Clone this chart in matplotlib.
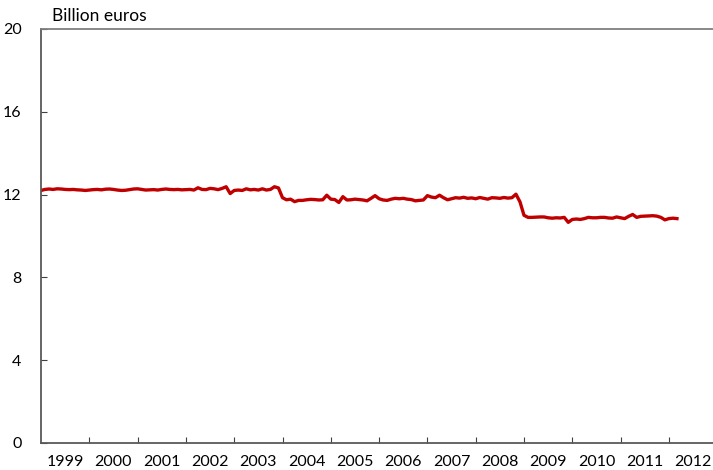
import matplotlib
matplotlib.use("Agg")
import matplotlib.pyplot as plt
import numpy as np

plt.rcParams['font.family'] = ['Lato', 'DejaVu Sans']

start_year = 1999
values = [
    # 1999
    12.20, 12.25, 12.27, 12.25, 12.28, 12.27, 12.25, 12.24, 12.25, 12.23, 12.22, 12.20,
    # 2000
    12.22, 12.24, 12.25, 12.23, 12.26, 12.27, 12.25, 12.22, 12.20, 12.21, 12.24, 12.27,
    # 2001
    12.28, 12.25, 12.22, 12.23, 12.24, 12.22, 12.25, 12.27, 12.25, 12.24, 12.25, 12.23,
    # 2002
    12.24, 12.25, 12.22, 12.33, 12.25, 12.24, 12.30, 12.28, 12.24, 12.30, 12.38, 12.05,
    # 2003
    12.20, 12.22, 12.20, 12.28, 12.23, 12.25, 12.22, 12.28, 12.22, 12.25, 12.38, 12.32,
    # 2004
    11.85, 11.75, 11.78, 11.66, 11.72, 11.72, 11.75, 11.77, 11.76, 11.74, 11.75, 11.97,
    # 2005
    11.78, 11.76, 11.62, 11.90, 11.74, 11.75, 11.78, 11.76, 11.74, 11.70, 11.82, 11.95,
    # 2006
    11.80, 11.74, 11.72, 11.78, 11.82, 11.80, 11.82, 11.78, 11.76, 11.70, 11.72, 11.74,
    # 2007
    11.95, 11.88, 11.85, 11.97, 11.85, 11.75, 11.80, 11.85, 11.83, 11.87, 11.82, 11.84,
    # 2008
    11.80, 11.86, 11.82, 11.78, 11.85, 11.84, 11.82, 11.86, 11.83, 11.85, 12.02, 11.65,
    # 2009
    11.00, 10.90, 10.90, 10.91, 10.92, 10.92, 10.88, 10.86, 10.88, 10.87, 10.90, 10.66,
    # 2010
    10.80, 10.82, 10.80, 10.84, 10.90, 10.88, 10.88, 10.90, 10.90, 10.87, 10.86, 10.92,
    # 2011
    10.88, 10.84, 10.95, 11.04, 10.90, 10.95, 10.96, 10.97, 10.98, 10.96, 10.90, 10.78,
    # 2012
    10.84, 10.86, 10.84,
]
year_labels = [str(y) for y in range(1999, 2013)]
y_ticks = [0, 4, 8, 12, 16, 20]

x = start_year + np.arange(len(values)) / 12.0

fig = plt.figure(figsize=(7.13, 4.70), dpi=100)
ax = fig.add_axes([41/713, 27/470, 1 - 41/713, 414/470])

ax.plot(x, values, color='#C00000', linewidth=2.4, solid_joinstyle='round')

ax.set_xlim(1999, 1999 + 672/48.3)
ax.set_ylim(0, 20)

ax.set_yticks(y_ticks)
ax.set_yticklabels([str(v) for v in y_ticks], fontsize=11.5)
ax.tick_params(axis='y', direction='in', length=4, pad=14, color='#404040')

ax.set_xticks(list(range(2000, 2013)))
ax.set_xticklabels([])
ax.set_xticks([y + 0.5 for y in range(1999, 2013)], minor=True)
ax.set_xticklabels(year_labels, minor=True, fontsize=11.5)
ax.tick_params(axis='x', which='major', direction='in', length=4, color='#404040')
ax.tick_params(axis='x', which='minor', length=0, pad=9)

for s in ['left', 'bottom']:
    ax.spines[s].set_color('#595959')
    ax.spines[s].set_linewidth(1.3)
ax.spines['top'].set_color('#7f7f7f')
ax.spines['top'].set_linewidth(1.3)
ax.spines['right'].set_visible(False)

fig.text(52/713, 1 - 16/470, 'Billion euros', fontsize=12.5, va='center', ha='left')

fig.savefig('out.png', dpi=100)
